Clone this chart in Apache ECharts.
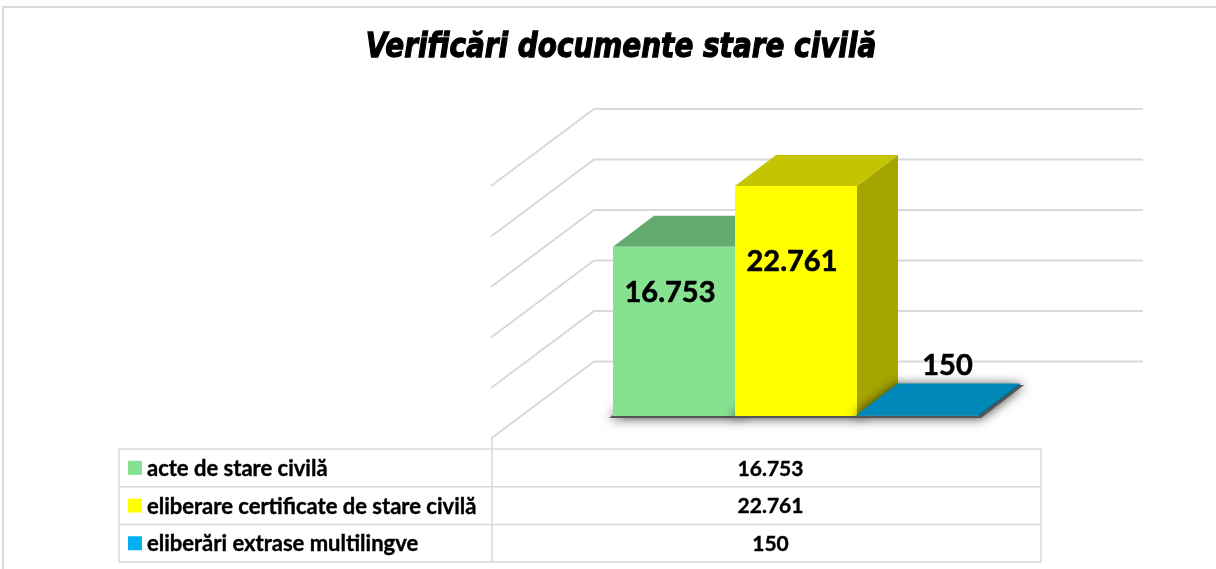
<!DOCTYPE html>
<html>
<head>
<meta charset="utf-8">
<script src="https://cdn.jsdelivr.net/npm/echarts@6/dist/echarts.min.js"></script>
<style>
  html, body { margin: 0; padding: 0; background: #fff; }
  #chart { width: 1216px; height: 569px; }
</style>
</head>
<body>
<div id="chart"></div>
<script>
// date
const categories = ['acte de stare civilă', 'eliberare certificate de stare civilă', 'eliberări extrase multilingve'];
const values = [16753, 22761, 150];
const gridTicks = [5000, 10000, 15000, 20000, 25000, 30000];

// culori: fata, capac, lateral, legenda
const faceColors = ['#86E291', '#FFFF00', '#0A8FC0'];
const topColors = ['#63AB6E', '#C4C400', '#0088B8'];
const sideColors = ['#4F8A58', '#A5A500', '#006A90'];
const keyColors = ['#86E291', '#FFFF00', '#00B0F0'];

// geometrie 3D (pixeli)
const BACK_L = 594, BACK_R = 1143;   // peretele din spate
const WALL_DX = -103, WALL_DY = 77;  // adancimea peretelui lateral
const BAR_DX = 41, BAR_DY = -31;     // adancimea coloanelor
const BAR_LIFT = 4;

// tabel
const TBL_L = 119, TBL_R = 1041, TBL_T = 449, ROW_H = 37.7, COL_X = 492;

function fmt(v) {
  return String(v).replace(/\B(?=(\d{3})+(?!\d))/g, '.');
}

let myChart = echarts.init(document.getElementById('chart'));

let graphics = [];
// chenarul graficului
graphics.push({
  type: 'polyline',
  shape: { points: [[3, 569], [3, 7], [1216, 7]] },
  style: { stroke: '#D9D9D9', lineWidth: 2, fill: null }
});
// titlu
graphics.push({
  type: 'text',
  x: 621, y: 48, scaleX: 0.82,
  style: {
    text: 'Verificări documente stare civilă',
    x: 0, y: 0, align: 'center', verticalAlign: 'middle',
    font: 'italic bold 34px "DejaVu Sans"', fill: '#000',
    stroke: '#000', lineWidth: 1.3
  }
});
// tabelul de date
let tblB = TBL_T + ROW_H * categories.length;
graphics.push({
  type: 'rect',
  shape: { x: TBL_L, y: TBL_T, width: TBL_R - TBL_L, height: tblB - TBL_T },
  style: { fill: null, stroke: '#D9D9D9', lineWidth: 1.5 }
});
graphics.push({
  type: 'line',
  shape: { x1: COL_X, y1: TBL_T - 11, x2: COL_X, y2: tblB },
  style: { stroke: '#D9D9D9', lineWidth: 1.5 }
});
categories.forEach(function (name, i) {
  let y0 = TBL_T + ROW_H * i;
  let yc = y0 + ROW_H / 2;
  if (i > 0) {
    graphics.push({
      type: 'line',
      shape: { x1: TBL_L, y1: y0, x2: TBL_R, y2: y0 },
      style: { stroke: '#D9D9D9', lineWidth: 1.5 }
    });
  }
  graphics.push({
    type: 'rect',
    shape: { x: 128, y: yc - 7, width: 14, height: 14 },
    style: { fill: keyColors[i] }
  });
  graphics.push({
    type: 'text',
    style: {
      text: name, x: 147, y: yc + 1, align: 'left', verticalAlign: 'middle',
      font: 'bold 22px Lato', fill: '#000', stroke: '#000', lineWidth: 0.4
    }
  });
  graphics.push({
    type: 'text',
    style: {
      text: fmt(values[i]), x: (COL_X + TBL_R) / 2 + 4, y: yc + 1,
      align: 'center', verticalAlign: 'middle',
      font: 'bold 21px Lato', fill: '#000', stroke: '#000', lineWidth: 0.4
    }
  });
});

let option = {
  animation: false,
  grid: { left: 613, width: 366, top: 109, bottom: 157 },
  xAxis: { type: 'category', data: categories, show: false },
  yAxis: { type: 'value', min: 0, max: 30000, interval: 5000, show: false },
  series: [
    {
      // liniile de grila pe pereti
      name: 'walls',
      type: 'custom',
      silent: true,
      z: 1,
      data: gridTicks.map(function (t) { return [0, t]; }),
      renderItem: function (params, api) {
        let y = api.coord([0, api.value(1)])[1];
        return {
          type: 'polyline',
          shape: { points: [[BACK_L + WALL_DX, y + WALL_DY], [BACK_L, y], [BACK_R, y]] },
          style: { stroke: '#D9D9D9', lineWidth: 2, fill: null }
        };
      }
    },
    {
      name: 'bars',
      type: 'custom',
      z: 2,
      data: values.map(function (v, i) { return [i, v]; }),
      renderItem: function (params, api) {
        let i = params.dataIndex;
        let v = api.value(1);
        let c = api.coord([i, v]);
        let w = api.size([1, 0])[0];
        let x0 = c[0] - w / 2, x1 = c[0] + w / 2;
        let yTop = c[1] + BAR_LIFT;
        let yBase = api.coord([i, 0])[1] + BAR_LIFT;
        let tall = yBase - yTop > 60;
        let label = tall
          ? { x: c[0] - 4, y: (yTop + yBase) / 2 - 39 }
          : { x: c[0] + BAR_DX * 0.72, y: yTop + BAR_DY - 18 };
        return {
          type: 'group',
          children: [
            {
              // umbra
              type: 'polygon',
              shape: { points: [[x0 - 4, yBase + 2], [x1 + 2, yBase + 2], [x1 + BAR_DX + 4, yBase + BAR_DY], [x0 + BAR_DX, yBase + BAR_DY]] },
              style: { fill: '#555', shadowBlur: 12, shadowColor: 'rgba(0,0,0,0.8)' }
            },
            {
              type: 'polygon',
              shape: { points: [[x1, yTop], [x1 + BAR_DX, yTop + BAR_DY], [x1 + BAR_DX, yBase + BAR_DY], [x1, yBase]] },
              style: { fill: sideColors[i] }
            },
            {
              type: 'polygon',
              shape: { points: [[x0, yTop], [x1, yTop], [x1 + BAR_DX, yTop + BAR_DY], [x0 + BAR_DX, yTop + BAR_DY]] },
              style: { fill: topColors[i] }
            },
            {
              type: 'rect',
              shape: { x: x0, y: yTop, width: w, height: Math.max(yBase - yTop, 1.5) },
              style: { fill: faceColors[i] }
            },
            {
              type: 'text',
              style: {
                text: fmt(v), x: label.x, y: label.y, align: 'center', verticalAlign: 'middle',
                font: 'bold 29px Lato', fill: '#000', stroke: '#000', lineWidth: 0.6
              }
            }
          ]
        };
      }
    }
  ],
  graphic: graphics
};

option && myChart.setOption(option);
</script>
</body>
</html>
